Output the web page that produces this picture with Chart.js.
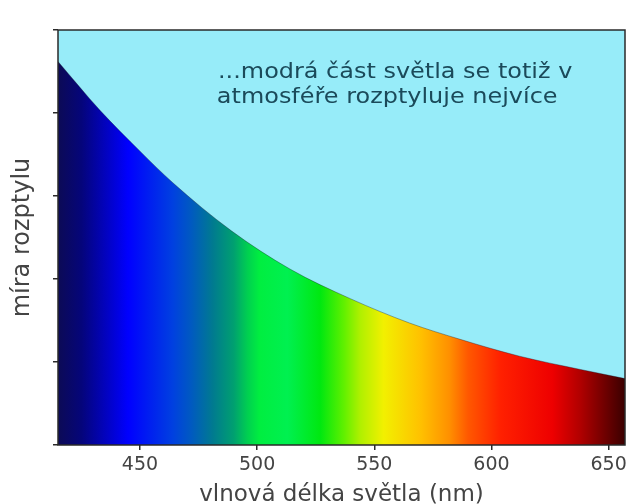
<!DOCTYPE html>
<html>
<head>
<meta charset="utf-8">
<script src="https://cdn.jsdelivr.net/npm/chart.js@4/dist/chart.umd.min.js"></script>
<style>
  html, body { margin: 0; padding: 0; background: #ffffff; }
  #wrap { width: 628px; height: 504px; position: relative; }
</style>
</head>
<body>
<div id="wrap"><canvas id="chart" width="628" height="504"></canvas></div>
<script>
  // wavelength (nm) -> scattering amount
  const wavelengths = [415, 433, 450, 464, 489, 514, 540, 565, 587, 612, 638, 657];
  const scattering = [4.62, 4.03, 3.54, 3.16, 2.58, 2.12, 1.76, 1.47, 1.27, 1.07, 0.91, 0.8];

  // spectrum colours under the curve
  const spectrumNm = [415, 425, 445, 464, 472, 481, 490, 496, 501, 513, 527, 537, 544, 554, 570, 582, 590, 604, 626, 638, 657];
  const spectrumColors = ["#0c0a55", "#05057a", "#0000ff", "#0040e0", "#005ac0", "#007a90", "#00a070", "#00d050", "#00ee40", "#00f050", "#00e810", "#60f000", "#b0f000", "#f2f000", "#ffc000", "#ff9000", "#ff5800", "#ff2000", "#ee0000", "#b00000", "#3a0000"];

  const xTicks = [450, 500, 550, 600, 650];
  const noteLines = ["...modrá část světla se totiž v", "atmosféře rozptyluje nejvíce"];
  const X_MIN = 415;
  const X_MAX = 657;
  const Y_MAX = 5;

  const SKY = "#97ecf9";
  const INK = "#444444";
  const FONT = "'DejaVu Sans', sans-serif";

  function spectrumFill(ctx) {
    const chart = ctx.chart;
    const area = chart.chartArea;
    if (!area) return "#0000ff";
    const xs = chart.scales.x;
    const g = chart.ctx.createLinearGradient(area.left, 0, area.right, 0);
    spectrumNm.forEach((nm, i) => {
      const px = xs.getPixelForValue(nm);
      const t = Math.min(1, Math.max(0, (px - area.left) / (area.right - area.left)));
      g.addColorStop(t, spectrumColors[i]);
    });
    return g;
  }

  const plotFrame = {
    id: "plotFrame",
    beforeDatasetsDraw(chart) {
      const { ctx, chartArea: a } = chart;
      ctx.save();
      ctx.fillStyle = SKY;
      ctx.fillRect(a.left, a.top, a.right - a.left, a.bottom - a.top);
      ctx.restore();
    },
    afterDatasetsDraw(chart) {
      const { ctx, chartArea: a } = chart;
      ctx.save();
      // the note is set a little wide, like the original
      ctx.translate(a.left + 160, 0);
      ctx.scale(1.14, 1);
      ctx.fillStyle = "#1b4a5a";
      ctx.font = `21px ${FONT}`;
      ctx.textBaseline = "middle";
      ctx.fillText(noteLines[0], 0, 73);
      ctx.fillText(noteLines[1], -1, 98);
      ctx.restore();
      ctx.save();
      ctx.strokeStyle = "#2a2a2a";
      ctx.lineWidth = 1.5;
      ctx.strokeRect(a.left, a.top, a.right - a.left, a.bottom - a.top);
      ctx.restore();
    },
  };

  new Chart(document.getElementById("chart"), {
    type: "line",
    data: {
      datasets: [{
        data: wavelengths.map((w, i) => ({ x: w, y: scattering[i] })),
        borderColor: "rgba(20,20,40,0.35)",
        borderWidth: 1,
        backgroundColor: spectrumFill,
        fill: "origin",
        pointRadius: 0,
        cubicInterpolationMode: "monotone",
      }],
    },
    options: {
      responsive: false,
      animation: false,
      layout: { padding: { top: 30, right: 3, left: 0, bottom: 0 } },
      plugins: { legend: { display: false }, tooltip: { enabled: false } },
      scales: {
        x: {
          type: "linear",
          min: X_MIN,
          max: X_MAX,
          afterBuildTicks: (s) => { s.ticks = xTicks.map((v) => ({ value: v })); },
          afterFit: (s) => { s.height = 59; s.paddingLeft = 0; s.paddingRight = 0; },
          grid: { drawOnChartArea: false, drawTicks: true, tickLength: 5, color: "#2a2a2a", lineWidth: 1.5 },
          border: { display: false },
          ticks: { color: INK, font: { family: FONT, size: 19 }, padding: 4, maxRotation: 0 },
          title: { display: true, text: "vlnová délka světla (nm)", color: INK, font: { family: FONT, size: 23 }, padding: { top: 0, bottom: -5 } },
        },
        y: {
          min: 0,
          max: Y_MAX,
          ticks: { stepSize: 1, callback: () => "", font: { size: 1 }, padding: 0 },
          afterFit: (s) => { s.width = 58; s.paddingTop = 0; s.paddingBottom = 0; },
          grid: { drawOnChartArea: false, drawTicks: true, tickLength: 5, color: "#2a2a2a", lineWidth: 1.5 },
          border: { display: false },
          title: { display: true, text: "míra rozptylu", color: INK, font: { family: FONT, size: 24 }, padding: { top: 8, bottom: 0 } },
        },
      },
    },
    plugins: [plotFrame],
  });
</script>
</body>
</html>
